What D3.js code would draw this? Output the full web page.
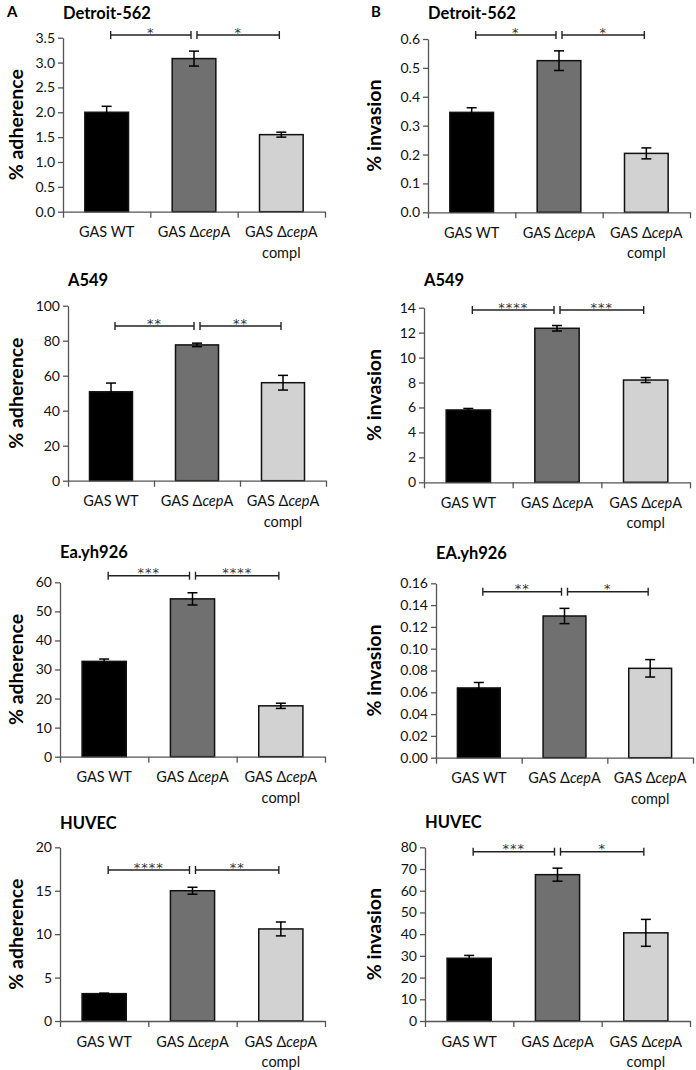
<!DOCTYPE html>
<html>
<head>
<meta charset="utf-8">
<script src="https://cdn.jsdelivr.net/npm/d3@7"></script>
<style>
  body { margin: 0; background: #fff; }
  svg { display: block; font-family: Lato, "Noto Sans", sans-serif; }
</style>
</head>
<body>
<svg id="fig" width="696" height="1070"></svg>
<script>
// categories on every x axis
const categories = ["GAS WT", "GAS \u0394cepA", "GAS \u0394cepA compl"];

// panel titles (cell line), left column = adherence, right column = invasion
const titles = ["Detroit-562", "Detroit-562", "A549", "A549", "Ea.yh926", "EA.yh926", "HUVEC", "HUVEC"];
const yTitles = ["% adherence", "% invasion", "% adherence", "% invasion",
                 "% adherence", "% invasion", "% adherence", "% invasion"];

// means and error bars
const detroitAdh = [2.00, 3.08, 1.55];
const detroitAdhErr = [0.12, 0.15, 0.05];
const detroitInv = [0.346, 0.525, 0.204];
const detroitInvErr = [0.016, 0.034, 0.019];
const a549Adh = [50.8, 77.6, 56.0];
const a549AdhErr = [5.0, 1.0, 4.2];
const a549Inv = [5.8, 12.35, 8.2];
const a549InvErr = [0.12, 0.22, 0.2];
const eaAdh = [32.8, 54.3, 17.5];
const eaAdhErr = [0.8, 2.1, 0.9];
const eaInv = [0.064, 0.130, 0.082];
const eaInvErr = [0.005, 0.007, 0.008];
const huvecAdh = [3.15, 15.0, 10.6];
const huvecAdhErr = [0.06, 0.4, 0.8];
const huvecInv = [28.9, 67.4, 40.6];
const huvecInvErr = [1.3, 3.0, 6.2];

// significance stars: [WT vs ΔcepA, ΔcepA vs compl]
const detroitAdhSig = ["*", "*"];
const detroitInvSig = ["*", "*"];
const a549AdhSig = ["**", "**"];
const a549InvSig = ["****", "***"];
const eaAdhSig = ["***", "****"];
const eaInvSig = ["**", "*"];
const huvecAdhSig = ["****", "**"];
const huvecInvSig = ["***", "*"];

// y axis ranges and tick steps
const yMaxes = [3.5, 0.6, 100, 14, 60, 0.16, 20, 80];
const yStepss = [0.5, 0.1, 20, 2, 10, 0.02, 5, 10];
const yFormats = [".1f", ".1f", "d", "d", "d", ".2f", "d", "d"];

const means = [detroitAdh, detroitInv, a549Adh, a549Inv, eaAdh, eaInv, huvecAdh, huvecInv];
const errs = [detroitAdhErr, detroitInvErr, a549AdhErr, a549InvErr, eaAdhErr, eaInvErr, huvecAdhErr, huvecInvErr];
const sigs = [detroitAdhSig, detroitInvSig, a549AdhSig, a549InvSig, eaAdhSig, eaInvSig, huvecAdhSig, huvecInvSig];

// pixel layout of each panel (x0 = y axis, top = y max, bottom = zero line)
const layout = [
  { x0: 63,  w: 262, top: 37.7,  bottom: 211.7, titleY: 19,  bracketY: 35 },
  { x0: 428, w: 262, top: 39,    bottom: 212.3, titleY: 19,  bracketY: 35 },
  { x0: 68,  w: 258, top: 305.7, bottom: 480.7, titleY: 285.5, bracketY: 326 },
  { x0: 424, w: 266, top: 307.7, bottom: 482.3, titleY: 285.5, bracketY: 310 },
  { x0: 60,  w: 265, top: 582.3, bottom: 756.7, titleY: 558, bracketY: 575.7 },
  { x0: 436, w: 257, top: 583.3, bottom: 757.7, titleY: 558.5, bracketY: 591.7 },
  { x0: 60,  w: 265, top: 847.3, bottom: 1021,  titleY: 829, bracketY: 870 },
  { x0: 425, w: 265, top: 847.3, bottom: 1021,  titleY: 828, bracketY: 851.7 }
];

const fills = ["#000000", "#707070", "#d2d2d2"];
const axisColor = "#555555";

const svg = d3.select("#fig");
svg.append("rect").attr("width", 696).attr("height", 1070).attr("fill", "#fff");

// panel letters
svg.append("text").attr("x", 7).attr("y", 17).text("A")
   .attr("font-size", 15).attr("font-weight", "bold");
svg.append("text").attr("x", 371).attr("y", 17).text("B")
   .attr("font-size", 15).attr("font-weight", "bold");

// label with italic "cep"
function catLabel(sel, label) {
  const lines = label.endsWith(" compl") ? [label.replace(" compl", ""), "compl"] : [label];
  lines.forEach((line, li) => {
    const t = sel.append("text")
                 .attr("text-anchor", "middle")
                 .attr("y", li * 20.5);
    if (line.includes("cep")) {
      const parts = line.split("cep");
      t.append("tspan").text(parts[0]);
      t.append("tspan").attr("font-style", "italic").text("cep");
      t.append("tspan").text(parts[1]);
    } else {
      t.text(line);
    }
  });
}

layout.forEach((L, i) => {
  const g = svg.append("g").attr("class", "panel");
  const vals = means[i];
  const ev = errs[i];

  const y = d3.scaleLinear().domain([0, yMaxes[i]]).range([L.bottom, L.top]);
  const xBand = d3.scaleBand().domain(categories)
                  .range([L.x0, L.x0 + L.w])
                  .paddingInner(0.5).paddingOuter(0.25);
  const xEdge = d3.scaleLinear().domain([0, categories.length]).range([L.x0, L.x0 + L.w]);

  // y axis
  const ticks = d3.range(0, yMaxes[i] + yStepss[i] / 2, yStepss[i]);
  const yAxis = g.append("g")
                 .attr("transform", `translate(${L.x0},0)`)
                 .call(d3.axisLeft(y).tickValues(ticks)
                         .tickFormat(d3.format(yFormats[i]))
                         .tickSize(5).tickSizeOuter(0).tickPadding(3));
  yAxis.select(".domain").attr("stroke", axisColor).attr("stroke-width", 1.3);
  yAxis.selectAll(".tick line").attr("stroke", axisColor).attr("stroke-width", 1.3);
  yAxis.selectAll(".tick text").attr("font-size", 14).attr("fill", "#111")
       .attr("font-family", "Lato, sans-serif");

  // bars
  g.selectAll("rect.bar")
   .data(vals)
   .enter()
   .append("rect")
   .attr("class", "bar")
   .attr("x", (d, j) => xBand(categories[j]))
   .attr("width", xBand.bandwidth())
   .attr("y", d => y(d))
   .attr("height", d => y(0) - y(d))
   .attr("fill", (d, j) => fills[j])
   .attr("stroke", "#111")
   .attr("stroke-width", 1.5);

  // x axis with ticks at band edges
  const xAxis = g.append("g")
                 .attr("transform", `translate(0,${L.bottom})`)
                 .call(d3.axisBottom(xEdge).tickValues(d3.range(0, categories.length + 1))
                         .tickFormat("").tickSize(6).tickSizeOuter(0));
  xAxis.select(".domain").attr("stroke", axisColor).attr("stroke-width", 1.3);
  xAxis.selectAll(".tick line").attr("stroke", axisColor).attr("stroke-width", 1.3);

  // category labels
  categories.forEach(c => {
    const lg = g.append("g")
                .attr("transform", `translate(${xBand(c) + xBand.bandwidth() / 2},${L.bottom + 25.5})`)
                .attr("font-size", 14.5).attr("fill", "#111");
    catLabel(lg, c);
  });

  // error bars
  const cx = j => xBand(categories[j]) + xBand.bandwidth() / 2;
  const eg = g.selectAll("g.err").data(vals).enter().append("g").attr("class", "err")
              .attr("stroke", "#000").attr("stroke-width", 1.5);
  eg.append("line")
    .attr("x1", (d, j) => cx(j)).attr("x2", (d, j) => cx(j))
    .attr("y1", (d, j) => y(d - ev[j])).attr("y2", (d, j) => y(d + ev[j]));
  eg.append("line")
    .attr("x1", (d, j) => cx(j) - 5).attr("x2", (d, j) => cx(j) + 5)
    .attr("y1", (d, j) => y(d + ev[j])).attr("y2", (d, j) => y(d + ev[j]));
  eg.append("line")
    .attr("x1", (d, j) => cx(j) - 5).attr("x2", (d, j) => cx(j) + 5)
    .attr("y1", (d, j) => y(d - ev[j])).attr("y2", (d, j) => y(d - ev[j]));

  // significance brackets
  const spans = [[cx(0) + 4, cx(1) - 3], [cx(1) + 3, cx(2) - 2]];
  spans.forEach((s, k) => {
    const bg = g.append("g").attr("stroke", "#222").attr("stroke-width", 1.4);
    bg.append("line").attr("x1", s[0]).attr("x2", s[1]).attr("y1", L.bracketY).attr("y2", L.bracketY);
    bg.append("line").attr("x1", s[0]).attr("x2", s[0]).attr("y1", L.bracketY - 4).attr("y2", L.bracketY + 4);
    bg.append("line").attr("x1", s[1]).attr("x2", s[1]).attr("y1", L.bracketY - 4).attr("y2", L.bracketY + 4);
    g.append("text")
     .attr("x", (s[0] + s[1]) / 2)
     .attr("y", L.bracketY + 1.5)
     .attr("text-anchor", "middle")
     .attr("font-family", "'DejaVu Sans', sans-serif")
     .attr("font-size", 13)
     .attr("letter-spacing", 1)
     .attr("fill", "#333")
     .text(sigs[i][k]);
  });

  // panel title
  g.append("text")
   .attr("x", L.x0)
   .attr("y", L.titleY)
   .attr("font-size", 16.5)
   .attr("font-weight", "bold")
   .text(titles[i]);

  // y axis title
  const yLabX = i % 2 === 0 ? 23 : 381;
  g.append("text")
   .attr("transform", `translate(${yLabX},${(L.top + L.bottom) / 2}) rotate(-90)`)
   .attr("text-anchor", "middle")
   .attr("font-size", 19.5)
   .attr("font-weight", "bold")
   .text(yTitles[i]);
});
</script>
</body>
</html>
